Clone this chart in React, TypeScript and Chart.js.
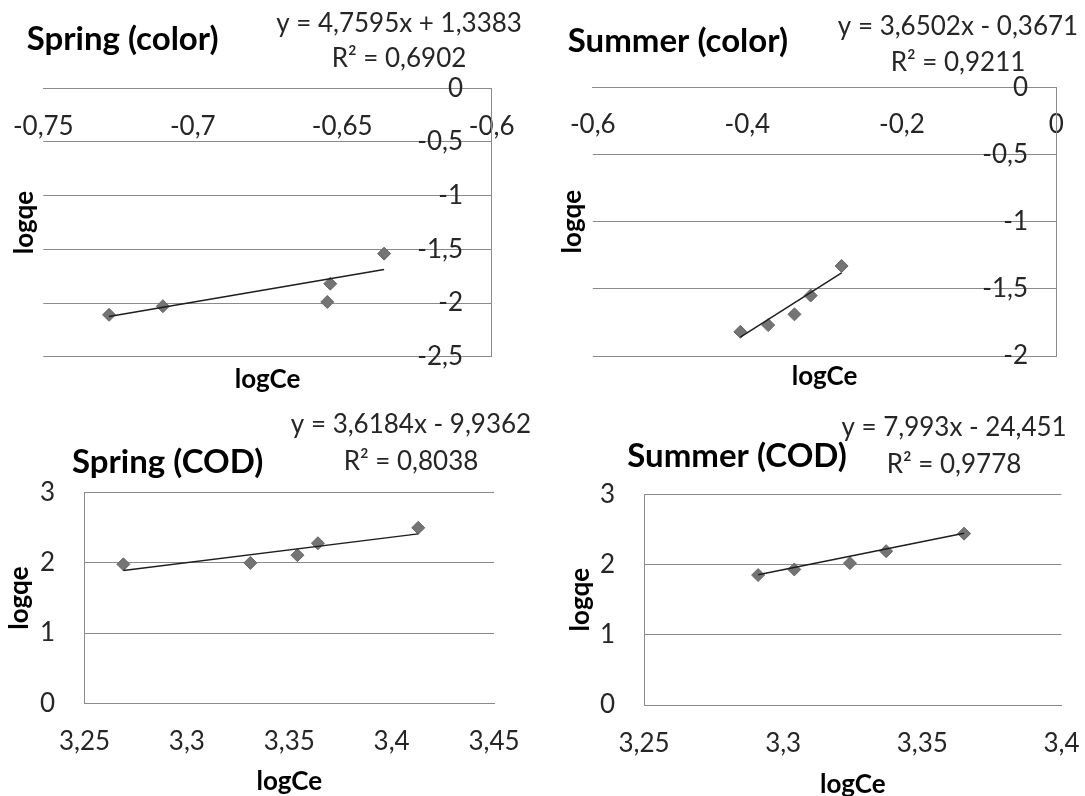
import React, { useEffect, useRef } from 'react';
import { Chart, registerables } from 'chart.js';

Chart.register(...registerables);

// ---------- DATA ----------
// Spring (color)
const springColorLogCe = [-0.728, -0.71, -0.655, -0.654, -0.636];
const springColorLogQe = [-2.11, -2.03, -1.99, -1.82, -1.54];
const springColorSlope = 4.7595;
const springColorIntercept = 1.3383;
const springColorR2 = 0.6902;
const springColorXTicks = [-0.75, -0.7, -0.65, -0.6];
const springColorYTicks = [0, -0.5, -1, -1.5, -2, -2.5];

// Summer (color)
const summerColorLogCe = [-0.409, -0.373, -0.339, -0.318, -0.278];
const summerColorLogQe = [-1.82, -1.77, -1.69, -1.55, -1.33];
const summerColorSlope = 3.6502;
const summerColorIntercept = -0.3671;
const summerColorR2 = 0.9211;
const summerColorXTicks = [-0.6, -0.4, -0.2, 0];
const summerColorYTicks = [0, -0.5, -1, -1.5, -2];

// Spring (COD)
const springCodLogCe = [3.269, 3.331, 3.354, 3.364, 3.413];
const springCodLogQe = [1.98, 2.0, 2.11, 2.28, 2.5];
const springCodSlope = 3.6184;
const springCodIntercept = -9.9362;
const springCodR2 = 0.8038;
const springCodXTicks = [3.25, 3.3, 3.35, 3.4, 3.45];
const springCodYTicks = [0, 1, 2, 3];

// Summer (COD)
const summerCodLogCe = [3.291, 3.304, 3.324, 3.337, 3.365];
const summerCodLogQe = [1.85, 1.93, 2.02, 2.19, 2.44];
const summerCodSlope = 7.993;
const summerCodIntercept = -24.451;
const summerCodR2 = 0.9778;
const summerCodXTicks = [3.25, 3.3, 3.35, 3.4];
const summerCodYTicks = [0, 1, 2, 3];

const xAxisTitle = 'logCe';
const yAxisTitle = 'logqe';

// ---------- STYLE ----------
const FONT = 'Lato';
const GRID = '#8a8a8a';
const TICK_COLOR = '#262626';
const TEXT_COLOR = '#000000';
const TICK_SIZE = 26;
const EQ_SIZE = 26;
const TITLE_SIZE = 33;
const AXIS_TITLE_SIZE = 26;

const fmt = (v: number) => String(Number(v.toFixed(6))).replace('.', ',');

type PanelCfg = {
  title: string;
  xs: number[];
  ys: number[];
  slope: number;
  intercept: number;
  r2: number;
  xTicks: number[];
  yTicks: number[];
  inverted: boolean; // axes at top/right (negative values)
  left: number; top: number; w: number; h: number;
  chartL: number; chartR: number; chartT: number; chartB: number;
  xPad: number; yGap: number; yTitleX: number; xTitleY: number;
  titleX: number; titleY: number; eqX: number; eqY: number[];
};

const panels: PanelCfg[] = [
  {
    title: 'Spring (color)', xs: springColorLogCe, ys: springColorLogQe,
    slope: springColorSlope, intercept: springColorIntercept, r2: springColorR2,
    xTicks: springColorXTicks, yTicks: springColorYTicks, inverted: true,
    left: 0, top: 0, w: 540, h: 400,
    chartL: 43.3, chartR: 491.7, chartT: 88.3, chartB: 356.7,
    xPad: 22.8, yGap: 28.7, yTitleX: 24.4, xTitleY: 380,
    titleX: 26.7, titleY: 50, eqX: 399, eqY: [31.7, 66.7],
  },
  {
    title: 'Summer (color)', xs: summerColorLogCe, ys: summerColorLogQe,
    slope: summerColorSlope, intercept: summerColorIntercept, r2: summerColorR2,
    xTicks: summerColorXTicks, yTicks: summerColorYTicks, inverted: true,
    left: 540, top: 0, w: 545, h: 400,
    chartL: 52.8, chartR: 516.4, chartT: 87.3, chartB: 356,
    xPad: 22.1, yGap: 28.4, yTitleX: 33, xTitleY: 377,
    titleX: 27.8, titleY: 51.7, eqX: 418, eqY: [35, 71],
  },
  {
    title: 'Spring (COD)', xs: springCodLogCe, ys: springCodLogQe,
    slope: springCodSlope, intercept: springCodIntercept, r2: springCodR2,
    xTicks: springCodXTicks, yTicks: springCodYTicks, inverted: false,
    left: 0, top: 400, w: 540, h: 400,
    chartL: 84.5, chartR: 494, chartT: 92.7, chartB: 303.3,
    xPad: 23.1, yGap: 29.5, yTitleX: 19.2, xTitleY: 382,
    titleX: 72, titleY: 72.5, eqX: 411, eqY: [33.3, 70],
  },
  {
    title: 'Summer (COD)', xs: summerCodLogCe, ys: summerCodLogQe,
    slope: summerCodSlope, intercept: summerCodIntercept, r2: summerCodR2,
    xTicks: summerCodXTicks, yTicks: summerCodYTicks, inverted: false,
    left: 540, top: 400, w: 545, h: 400,
    chartL: 104, chartR: 521.5, chartT: 94.3, chartB: 305,
    xPad: 22.7, yGap: 29, yTitleX: 40.4, xTitleY: 385,
    titleX: 87.3, titleY: 66.5, eqX: 414, eqY: [35.5, 73.3],
  },
];

function buildConfig(c: PanelCfg): any {
  const xMin = Math.min(...c.xs);
  const xMax = Math.max(...c.xs);
  const trend = [
    { x: xMin, y: c.slope * xMin + c.intercept },
    { x: xMax, y: c.slope * xMax + c.intercept },
  ];
  const points = c.xs.map((x, i) => ({ x, y: c.ys[i] }));
  const eqLines = [
    `y = ${fmt(c.slope)}x ${c.intercept < 0 ? '-' : '+'} ${fmt(Math.abs(c.intercept))}`,
    `R² = ${fmt(c.r2)}`,
  ];

  const tickFont = { family: FONT, size: TICK_SIZE };
  const axisTitleFont = { family: FONT, size: AXIS_TITLE_SIZE, weight: 'bold' as const };
  const lh = AXIS_TITLE_SIZE * 1.2;
  const yTitlePadTop = c.yTitleX - lh / 2;
  const xTitlePadBottom = c.h - c.xTitleY - lh / 2;
  const bottomH = c.h - c.chartB;

  const textPlugin = {
    id: 'panelText',
    afterDraw(chart: any) {
      const ctx = chart.ctx as CanvasRenderingContext2D;
      ctx.save();
      ctx.textBaseline = 'alphabetic';
      ctx.fillStyle = TEXT_COLOR;
      ctx.font = `bold ${TITLE_SIZE}px ${FONT}`;
      ctx.textAlign = 'left';
      ctx.fillText(c.title, c.titleX, c.titleY);
      ctx.fillStyle = TICK_COLOR;
      ctx.font = `${EQ_SIZE}px ${FONT}`;
      ctx.textAlign = 'center';
      eqLines.forEach((l, i) => ctx.fillText(l, c.eqX, c.eqY[i]));
      ctx.restore();
    },
  };

  const xMinT = Math.min(...c.xTicks), xMaxT = Math.max(...c.xTicks);
  const yMinT = Math.min(...c.yTicks), yMaxT = Math.max(...c.yTicks);

  const tickCommon = {
    font: tickFont,
    color: TICK_COLOR,
    autoSkip: false,
    minRotation: 0,
    maxRotation: 0,
    callback: (v: any) => fmt(Number(v)),
  };

  let scales: any;
  if (c.inverted) {
    scales = {
      x: {
        type: 'linear', position: 'top', min: xMinT, max: xMaxT,
        afterBuildTicks: (s: any) => { s.ticks = c.xTicks.map((v) => ({ value: v })); },
        afterFit: (s: any) => { s.height = 0; s.paddingLeft = 0; s.paddingRight = 0; },
        grid: { display: false, drawTicks: false },
        border: { display: true, color: GRID, width: 1 },
        ticks: { ...tickCommon, mirror: true, padding: c.xPad },
      },
      y: {
        type: 'linear', position: 'right', min: yMinT, max: yMaxT,
        afterBuildTicks: (s: any) => { s.ticks = c.yTicks.map((v) => ({ value: v })); },
        afterFit: (s: any) => { s.width = 0; s.paddingTop = 0; s.paddingBottom = 0; },
        grid: { color: GRID, lineWidth: 1, drawTicks: false },
        border: { display: true, color: GRID, width: 1 },
        ticks: { ...tickCommon, mirror: true, padding: -c.yGap },
      },
      xt: {
        type: 'linear', position: 'bottom', display: true,
        afterFit: (s: any) => { s.height = bottomH; s.paddingLeft = 0; s.paddingRight = 0; },
        grid: { display: false, drawTicks: false },
        border: { display: false },
        ticks: { display: false },
        title: { display: true, text: xAxisTitle, font: axisTitleFont, color: TEXT_COLOR, padding: { top: 0, bottom: xTitlePadBottom } },
      },
      yt: {
        type: 'linear', position: 'left', display: true,
        afterFit: (s: any) => { s.width = c.chartL; s.paddingTop = 0; s.paddingBottom = 0; },
        grid: { display: false, drawTicks: false },
        border: { display: false },
        ticks: { display: false },
        title: { display: true, text: yAxisTitle, font: axisTitleFont, color: TEXT_COLOR, padding: { top: yTitlePadTop, bottom: 0 } },
      },
    };
  } else {
    scales = {
      x: {
        type: 'linear', position: 'bottom', min: xMinT, max: xMaxT,
        afterBuildTicks: (s: any) => { s.ticks = c.xTicks.map((v) => ({ value: v })); },
        afterFit: (s: any) => { s.height = bottomH; s.paddingLeft = 0; s.paddingRight = 0; },
        grid: { display: false, drawTicks: false },
        border: { display: true, color: GRID, width: 1 },
        ticks: { ...tickCommon, padding: c.xPad },
        title: { display: true, text: xAxisTitle, font: axisTitleFont, color: TEXT_COLOR, padding: { top: 0, bottom: xTitlePadBottom } },
      },
      y: {
        type: 'linear', position: 'left', min: yMinT, max: yMaxT,
        afterBuildTicks: (s: any) => { s.ticks = c.yTicks.map((v) => ({ value: v })); },
        afterFit: (s: any) => { s.width = c.chartL; s.paddingTop = 0; s.paddingBottom = 0; },
        grid: { color: GRID, lineWidth: 1, drawTicks: false },
        border: { display: true, color: GRID, width: 1 },
        ticks: { ...tickCommon, padding: c.yGap },
        title: { display: true, text: yAxisTitle, font: axisTitleFont, color: TEXT_COLOR, padding: { top: yTitlePadTop, bottom: 0 } },
      },
    };
  }

  return {
    type: 'scatter',
    data: {
      datasets: [
        {
          label: 'Linear trend',
          data: trend,
          showLine: true,
          pointRadius: 0,
          borderColor: '#1e1e1e',
          borderWidth: 1.5,
          order: 0,
        },
        {
          label: c.title,
          data: points,
          pointStyle: 'rectRot',
          pointRadius: 6.5,
          backgroundColor: '#747474',
          borderColor: '#666666',
          borderWidth: 1,
          order: 1,
        },
      ],
    },
    options: {
      animation: false,
      responsive: false,
      devicePixelRatio: 1,
      events: [],
      layout: {
        padding: { left: 0, top: c.chartT, right: c.w - c.chartR, bottom: 0 },
      },
      plugins: { legend: { display: false }, tooltip: { enabled: false }, title: { display: false } },
      scales,
    },
    plugins: [textPlugin],
  };
}

function Panel({ cfg }: { cfg: PanelCfg }) {
  const ref = useRef<HTMLCanvasElement>(null);
  useEffect(() => {
    if (!ref.current) return;
    const chart = new Chart(ref.current, buildConfig(cfg));
    return () => chart.destroy();
  }, [cfg]);
  return (
    <canvas
      ref={ref}
      width={cfg.w}
      height={cfg.h}
      style={{ position: 'absolute', left: cfg.left, top: cfg.top, width: cfg.w, height: cfg.h }}
    />
  );
}

export default function App() {
  Chart.defaults.font.family = FONT;
  return (
    <div
      style={{
        position: 'fixed', left: 0, top: 0, width: 1085, height: 796,
        background: '#ffffff', overflow: 'hidden',
      }}
    >
      {panels.map((p) => (
        <Panel key={p.title} cfg={p} />
      ))}
    </div>
  );
}
